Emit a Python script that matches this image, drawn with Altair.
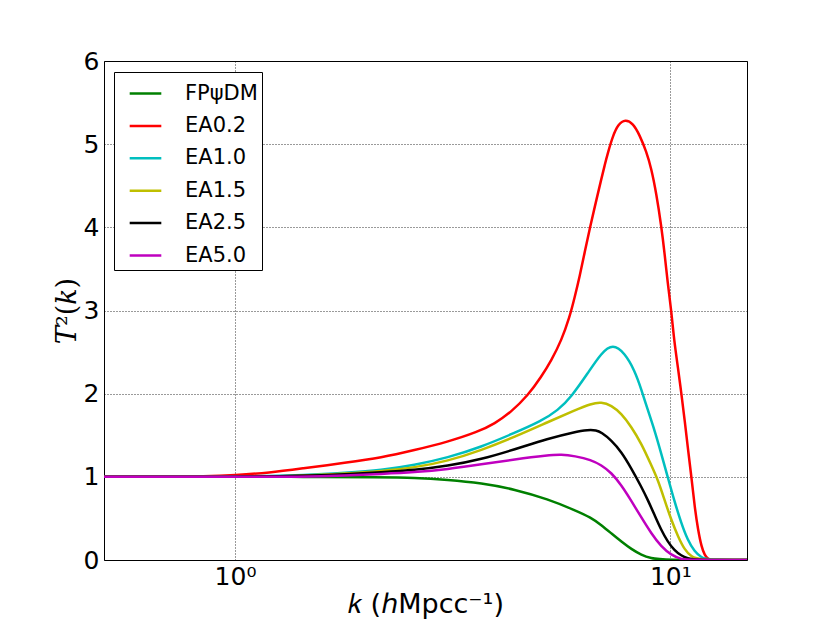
import altair as alt
import pandas as pd

series_names = ["FPψDM", "EA0.2", "EA1.0", "EA1.5", "EA2.5", "EA5.0"]
series_colors = ["#008000", "#ff0000", "#00bfbf", "#bfbf00", "#000000", "#bf00bf"]

k_fp = [0.5, 1.0, 1.42, 2.17, 2.58, 3.08, 3.68, 4.39, 5.24, 6.03, 6.58, 6.94, 7.32, 7.72, 8.14, 8.58, 9.04, 9.53, 15]
t_fp = [1.0, 1.0, 1.0, 0.995, 0.99, 0.965, 0.925, 0.85, 0.73, 0.60, 0.51, 0.42, 0.32, 0.22, 0.13, 0.06, 0.02, 0.0, 0.0]

k_ea02 = [0.5, 0.7, 0.85, 1.0, 1.2, 1.42, 1.8, 2.17, 2.58, 3.08, 3.61, 3.95, 4.31, 4.71, 5.05, 5.33, 5.62, 5.87,
          6.03, 6.19, 6.35, 6.52, 6.70, 6.94, 7.06, 7.19, 7.38, 7.59, 7.88, 8.21, 8.50, 8.81, 9.04, 9.29, 9.53,
          9.70, 9.86, 10.05, 10.2, 10.42, 10.6, 10.79, 10.96, 11.18, 11.37, 11.58, 11.79, 11.99, 12.2, 12.43, 15]
t_ea02 = [1.0, 1.0, 1.005, 1.02, 1.05, 1.10, 1.17, 1.23, 1.32, 1.42, 1.54, 1.64, 1.78, 1.98, 2.20, 2.40, 2.64, 2.92,
          3.16, 3.41, 3.69, 3.97, 4.24, 4.58, 4.74, 4.90, 5.10, 5.24, 5.30, 5.25, 5.11, 4.91, 4.71, 4.40, 4.02,
          3.69, 3.33, 3.00, 2.64, 2.30, 2.00, 1.68, 1.36, 1.00, 0.64, 0.36, 0.16, 0.06, 0.01, 0.0, 0.0]

k_ea10 = [0.5, 0.9, 1.0, 1.2, 1.42, 1.8, 2.17, 2.58, 3.08, 3.68, 4.35, 5.05, 5.52, 5.92, 6.47, 6.94, 7.38, 7.85,
          8.28, 8.58, 8.88, 9.2, 9.53, 9.86, 10.2, 10.6, 10.96, 11.37, 11.79, 12.2, 15]
t_ea10 = [1.0, 1.0, 1.005, 1.01, 1.02, 1.05, 1.08, 1.14, 1.23, 1.36, 1.52, 1.67, 1.80, 1.96, 2.25, 2.49, 2.60, 2.49,
          2.28, 2.05, 1.80, 1.56, 1.28, 1.00, 0.72, 0.44, 0.24, 0.10, 0.03, 0.0, 0.0]

k_ea15 = [0.5, 0.9, 1.0, 1.42, 1.8, 2.17, 2.58, 3.08, 3.68, 4.39, 5.24, 6.03, 6.58, 6.94, 7.32, 7.72, 8.14, 8.58,
          9.04, 9.37, 9.70, 10.05, 10.42, 10.79, 11.18, 11.58, 15]
t_ea15 = [1.0, 1.0, 1.003, 1.01, 1.04, 1.07, 1.11, 1.19, 1.32, 1.48, 1.66, 1.80, 1.88, 1.90, 1.86, 1.76, 1.60, 1.40,
          1.14, 0.96, 0.72, 0.48, 0.28, 0.12, 0.04, 0.0, 0.0]

k_ea25 = [0.5, 0.9, 1.0, 1.42, 1.8, 2.17, 2.58, 3.08, 3.68, 4.39, 5.24, 6.03, 6.47, 6.76, 6.94, 7.32, 7.72, 8.14,
          8.58, 8.88, 9.2, 9.53, 9.86, 10.2, 10.6, 10.96, 11.37, 15]
t_ea25 = [1.0, 1.0, 1.002, 1.01, 1.03, 1.055, 1.08, 1.13, 1.21, 1.33, 1.46, 1.54, 1.565, 1.56, 1.535, 1.44, 1.30, 1.10,
          0.88, 0.72, 0.54, 0.36, 0.22, 0.12, 0.05, 0.02, 0.0, 0.0]

k_ea50 = [0.5, 1.0, 1.42, 1.8, 2.17, 2.58, 3.08, 3.68, 4.39, 5.24, 5.62, 6.03, 6.58, 6.94, 7.32, 7.72, 8.14, 8.58,
          9.04, 9.53, 10.05, 10.6, 10.96, 15]
t_ea50 = [1.0, 1.0, 1.0, 1.015, 1.035, 1.055, 1.09, 1.15, 1.21, 1.26, 1.27, 1.25, 1.205, 1.14, 1.05, 0.90, 0.71, 0.51,
          0.32, 0.16, 0.06, 0.01, 0.0, 0.0]

x_tick_values = [1, 10]
y_tick_values = [0, 1, 2, 3, 4, 5, 6]

all_k = [k_fp, k_ea02, k_ea10, k_ea15, k_ea25, k_ea50]
all_t = [t_fp, t_ea02, t_ea10, t_ea15, t_ea25, t_ea50]

rows = []
for order, (name, ks, ts) in enumerate(zip(series_names, all_k, all_t)):
    for i, (kv, tv) in enumerate(zip(ks, ts)):
        rows.append({"series": name, "k": kv, "T2": tv, "idx": i, "layer": order})
df = pd.DataFrame(rows)

font = "DejaVu Sans"
grid_style = dict(grid=True, gridColor="black", gridDash=[1, 2], gridWidth=0.8, gridOpacity=1)

chart = alt.Chart(df).mark_line(strokeWidth=2.5, interpolate="basis", clip=True).encode(
    x=alt.X("k:Q",
            scale=alt.Scale(type="log", domain=[0.5, 15], nice=False),
            axis=alt.Axis(values=x_tick_values,
                          labelExpr="datum.value == 1 ? '10⁰' : '10¹'",
                          title="𝑘 (ℎMpcc⁻¹)",
                          ticks=False, domain=False,
                          labelFont=font, labelFontSize=25, labelPadding=4, labelColor="black",
                          titleFont=font, titleFontSize=27, titleFontWeight="normal", titleColor="black",
                          titlePadding=2, **grid_style)),
    y=alt.Y("T2:Q",
            scale=alt.Scale(domain=[0, 6], nice=False),
            axis=alt.Axis(values=y_tick_values, format="d",
                          title="𝑇²(𝑘)",
                          ticks=False, domain=False,
                          labelFont=font, labelFontSize=25, labelPadding=5, labelColor="black",
                          titleFont="DejaVu Serif", titleFontSize=27, titleFontWeight="normal",
                          titleColor="black", titlePadding=2, **grid_style)),
    color=alt.Color("series:N",
                    scale=alt.Scale(domain=series_names, range=series_colors),
                    legend=alt.Legend(title=None, orient="none", legendX=10, legendY=11,
                                      symbolType="stroke", symbolSize=1000, symbolStrokeWidth=2.5,
                                      symbolOffset=10,
                                      labelFontSize=21, labelFont=font, labelColor="black",
                                      labelOffset=22, rowPadding=4.4, padding=4,
                                      strokeColor="black", fillColor="white", cornerRadius=0)),
    order=alt.Order("idx:Q"),
    detail="layer:O",
).properties(
    width=643, height=499,
    autosize=alt.AutoSizeParams(type="none"),
    padding={"left": 96, "top": 53, "right": 60, "bottom": 60},
    background="white",
).configure_view(
    stroke="black", strokeWidth=1
)

chart.save("out.html", embed_options={"renderer": "svg", "actions": False})
